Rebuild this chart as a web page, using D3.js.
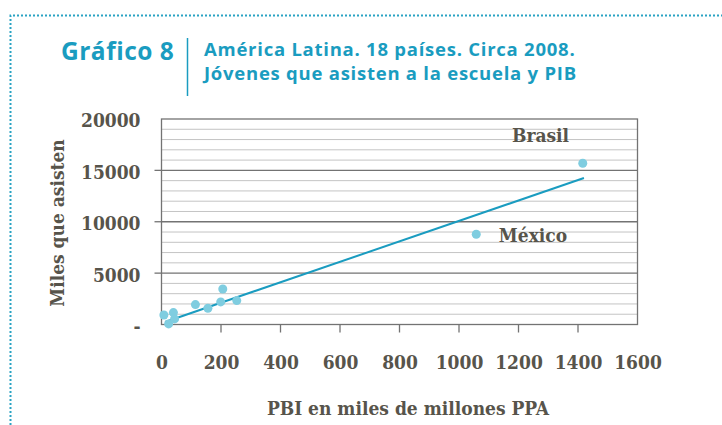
<!DOCTYPE html>
<html>
<head>
<meta charset="utf-8">
<script src="https://cdn.jsdelivr.net/npm/d3@7"></script>
<style>
  body { margin: 0; background: #fff; }
  .serif { font-family: "DejaVu Serif Condensed", "DejaVu Serif", serif; font-weight: bold; fill: #57544b; }
</style>
</head>
<body>
<svg width="722" height="425"></svg>
<script>
// Data
var pbi      = [8, 24, 40, 44, 114, 156, 199, 206, 253, 1058, 1416];
var asisten  = [930, 60, 1160, 545, 1935, 1585, 2200, 3460, 2325, 8780, 15690];
var trendX = [12, 1420];
var trendY = [250, 14260];
var xTicks = [0, 200, 400, 600, 800, 1000, 1200, 1400, 1600];
var yTicks = [0, 5000, 10000, 15000, 20000];
var labels = [{name: "Brasil", x: 1178, y: 17800}, {name: "México", x: 1134, y: 8050}];

var svg = d3.select("svg"),
    width = +svg.attr("width"),
    height = +svg.attr("height");

var teal = "#1a9cc0";

// Dotted frame
svg.append("path")
    .attr("d", "M10.5,425 V15.5 H722")
    .attr("fill", "none")
    .attr("stroke", "#2aa3c3")
    .attr("stroke-width", 2)
    .attr("stroke-dasharray", "2,2");

// Title
svg.append("text")
    .attr("x", 61).attr("y", 59.5)
    .attr("font-family", "Open Sans").attr("font-weight", "bold")
    .attr("font-size", 24.5).attr("letter-spacing", 0.5).attr("fill", teal)
    .text("Gráfico 8");
svg.append("line")
    .attr("x1", 187.5).attr("x2", 187.5).attr("y1", 38).attr("y2", 96)
    .attr("stroke", teal).attr("stroke-width", 1.5);
svg.append("text")
    .attr("x", 204).attr("y", 56)
    .attr("font-family", "Open Sans").attr("font-weight", "bold")
    .attr("font-size", 18.5).attr("letter-spacing", 0.75).attr("fill", teal)
    .text("América Latina. 18 países. Circa 2008.");
svg.append("text")
    .attr("x", 204).attr("y", 80)
    .attr("font-family", "Open Sans").attr("font-weight", "bold")
    .attr("font-size", 18.5).attr("letter-spacing", 0.75).attr("fill", teal)
    .text("Jóvenes que asisten a la escuela y PIB");

// Scales
var margin = {left: 161.5, right: 637.5, top: 119, bottom: 324.5};
var x = d3.scaleLinear().domain([0, 1600]).range([margin.left, margin.right]);
var y = d3.scaleLinear().domain([0, 20000]).range([margin.bottom, margin.top]);

// Grid
var g = svg.append("g");
g.selectAll(".minor")
    .data(d3.range(1000, 20000, 1000).filter(function (d) { return d % 5000 != 0; }))
    .enter().append("line")
    .attr("x1", margin.left).attr("x2", margin.right)
    .attr("y1", function (d) { return y(d); }).attr("y2", function (d) { return y(d); })
    .attr("stroke", "#c4c4c4").attr("stroke-width", 1);
g.selectAll(".major")
    .data([5000, 10000, 15000])
    .enter().append("line")
    .attr("x1", margin.left).attr("x2", margin.right)
    .attr("y1", function (d) { return y(d); }).attr("y2", function (d) { return y(d); })
    .attr("stroke", "#737373").attr("stroke-width", 1.3);
g.append("rect")
    .attr("x", margin.left).attr("y", margin.top)
    .attr("width", margin.right - margin.left).attr("height", margin.bottom - margin.top)
    .attr("fill", "none").attr("stroke", "#737373").attr("stroke-width", 1.3);

// Axes
var xAxis = d3.axisBottom(x).tickValues(xTicks).tickSize(0).tickPadding(31)
    .tickFormat(d3.format("d"));
svg.append("g")
    .attr("transform", "translate(0," + margin.bottom + ")")
    .call(xAxis)
    .call(function (s) {
        s.select(".domain").remove();
        s.selectAll("text").attr("class", "serif").attr("font-size", 19).attr("font-family", null).attr("fill", null);
    });
svg.append("g").selectAll("line")
    .data(xTicks.slice(1, -1))
    .enter().append("line")
    .attr("x1", function (d) { return x(d); }).attr("x2", function (d) { return x(d); })
    .attr("y1", margin.bottom).attr("y2", margin.bottom + 8)
    .attr("stroke", "#737373").attr("stroke-width", 1.3);

var yAxis = d3.axisLeft(y).tickValues(yTicks).tickSize(0).tickPadding(21)
    .tickFormat(function (d) { return d == 0 ? "-" : d; });
svg.append("g")
    .attr("transform", "translate(" + margin.left + ",0)")
    .call(yAxis)
    .call(function (s) {
        s.select(".domain").remove();
        s.selectAll("text").attr("class", "serif").attr("font-size", 19).attr("font-family", null).attr("fill", null)
            .attr("dy", "0.42em");
    });
svg.append("g").selectAll("line")
    .data([5000, 10000, 15000])
    .enter().append("line")
    .attr("x1", margin.left - 7).attr("x2", margin.left)
    .attr("y1", function (d) { return y(d); }).attr("y2", function (d) { return y(d); })
    .attr("stroke", "#737373").attr("stroke-width", 1.3);

// Axis titles
svg.append("text")
    .attr("class", "serif").attr("font-size", 19)
    .attr("text-anchor", "middle")
    .attr("x", 408).attr("y", 415)
    .text("PBI en miles de millones PPA");
svg.append("text")
    .attr("class", "serif").attr("font-size", 19)
    .attr("text-anchor", "middle")
    .attr("transform", "translate(64,223) rotate(-90)")
    .text("Miles que asisten");

// Trend line
svg.append("line")
    .attr("x1", x(trendX[0])).attr("y1", y(trendY[0]))
    .attr("x2", x(trendX[1])).attr("y2", y(trendY[1]))
    .attr("stroke", teal).attr("stroke-width", 2);

// Points
svg.append("g").selectAll("circle")
    .data(d3.zip(pbi, asisten))
    .enter().append("circle")
    .attr("cx", function (d) { return x(d[0]); })
    .attr("cy", function (d) { return y(d[1]); })
    .attr("r", 4.5)
    .attr("fill", "#7fcde0");

// Country labels
svg.append("g").selectAll("text")
    .data(labels)
    .enter().append("text")
    .attr("class", "serif").attr("font-size", 19)
    .attr("x", function (d) { return x(d.x); })
    .attr("y", function (d) { return y(d.y); })
    .text(function (d) { return d.name; });
</script>
</body>
</html>
